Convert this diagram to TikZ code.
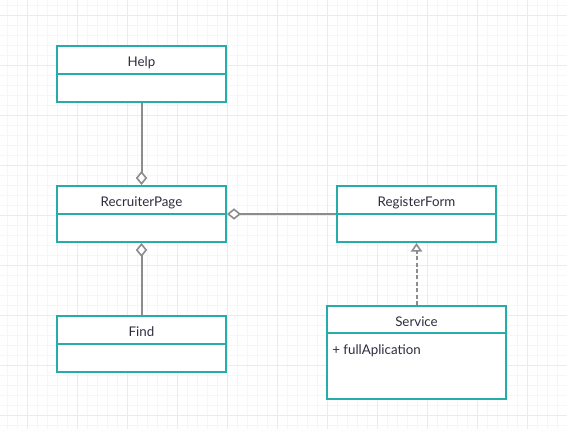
\documentclass[tikz,border=0pt]{standalone}
\usepackage{fontspec}
\setmainfont{Lato}
\usetikzlibrary{arrows.meta}
\definecolor{umlteal}{HTML}{27ADA9}
\definecolor{linkgray}{HTML}{8C8C8C}
\definecolor{textdark}{HTML}{2D2D3F}
\definecolor{gridminor}{HTML}{F6F6F6}
\definecolor{gridmajor}{HTML}{EBEBEB}
\begin{document}
\begin{tikzpicture}[x=0.75pt, y=-0.75pt,
  umlclass/.style={rectangle, draw=umlteal, line width=1.5pt, fill=white, inner sep=0pt},
  title/.style={text=textdark, font=\fontsize{10pt}{12pt}\selectfont, inner sep=0pt, anchor=base},
  link/.style={draw=linkgray, line width=1.5pt},
  aggr/.style={link, -{Diamond[open, fill=white, length=10.5pt, width=8.5pt, line width=1.2pt]}},
  realize/.style={link, dash pattern=on 3pt off 1.8pt, -{Triangle[open, fill=white, length=6.5pt, width=8.5pt, line width=1.2pt]}}]

  \useasboundingbox (0,0) rectangle (567,429);
  \fill[white] (0,0) rectangle (567,429);
  \foreach \x in {7,17,...,567} \draw[gridminor, line width=0.75pt] (\x,0) -- (\x,429);
  \foreach \y in {5,15,...,429} \draw[gridminor, line width=0.75pt] (0,\y) -- (567,\y);
  \foreach \x in {27,77,...,567} \draw[gridmajor, line width=0.75pt] (\x,0) -- (\x,429);
  \foreach \y in {15,65,...,429} \draw[gridmajor, line width=0.75pt] (0,\y) -- (567,\y);

  \node[umlclass, minimum width=126.75pt, minimum height=42pt] (help) at (141.5, 74) {};
  \node[umlclass, minimum width=126.75pt, minimum height=42pt] (recruiter) at (141.5, 214) {};
  \node[umlclass, minimum width=126.75pt, minimum height=42pt] (find) at (141.5, 344) {};
  \node[umlclass, minimum width=119.25pt, minimum height=42pt] (register) at (416.5, 214) {};
  \node[umlclass, minimum width=134.25pt, minimum height=69.75pt] (service) at (416.5, 352.5) {};

  \draw[umlteal, line width=1.5pt] (help.west) -- (help.east);
  \draw[umlteal, line width=1.5pt] (recruiter.west) -- (recruiter.east);
  \draw[umlteal, line width=1.5pt] (find.west) -- (find.east);
  \draw[umlteal, line width=1.5pt] (register.west) -- (register.east);
  \draw[umlteal, line width=1.5pt] ([yshift=-21pt]service.north west) -- ([yshift=-21pt]service.north east);

  \node[title] (helpname) at (141.5, 66) {Help};
  \node[title] (recruitername) at (141.5, 206) {RecruiterPage};
  \node[title] (findname) at (141.5, 336) {Find};
  \node[title] (registername) at (416.5, 206) {RegisterForm};
  \node[title] (servicename) at (416.5, 326) {Service};
  \node[title, anchor=base west] (serviceattr) at (332, 354) {+ fullAplication};

  \draw[aggr] (help) -- (recruiter);
  \draw[aggr] (find) -- (recruiter);
  \draw[aggr] (register) -- (recruiter);
  \draw[realize] (service) -- (register);

\end{tikzpicture}
\end{document}
